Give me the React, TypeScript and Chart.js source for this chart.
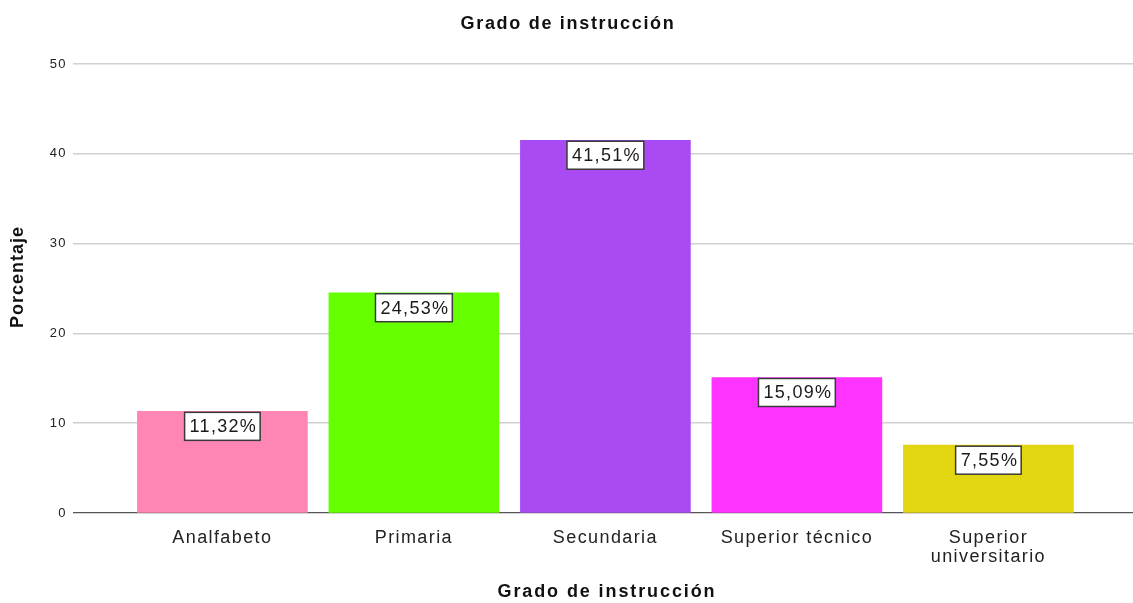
import React, { useEffect, useRef } from "react";
import { Chart, registerables } from "chart.js";

Chart.register(...registerables);

const chartTitle = "Grado de instrucción";
const xAxisTitle = "Grado de instrucción";
const yAxisTitle = "Porcentaje";
const categories: (string | string[])[] = [
  "Analfabeto",
  "Primaria",
  "Secundaria",
  "Superior técnico",
  ["Superior", "universitario"],
];
const percentages = [11.32, 24.53, 41.51, 15.09, 7.55];
const percentLabels = ["11,32%", "24,53%", "41,51%", "15,09%", "7,55%"];
const barColors = ["#FF85B4", "#66FF00", "#AA4AF2", "#FF33FF", "#E2D610"];
const yTicks = [0, 10, 20, 30, 40, 50];

const FONT = "'Liberation Sans', Arial, sans-serif";

const textPlugin = {
  id: "textPlugin",
  beforeDraw(chart: any) {
    chart.ctx.letterSpacing = "1.4px";
  },
  afterDatasetsDraw(chart: any) {
    const ctx = chart.ctx;
    const meta = chart.getDatasetMeta(0);
    ctx.save();
    ctx.letterSpacing = "1.3px";
    ctx.font = `18px ${FONT}`;
    meta.data.forEach((bar: any, i: number) => {
      const txt = percentLabels[i];
      const w = ctx.measureText(txt).width + 8;
      const h = 28;
      const x = bar.x - w / 2;
      const y = bar.y + 1;
      ctx.fillStyle = "#ffffff";
      ctx.fillRect(x, y, w, h);
      ctx.strokeStyle = "#3a3a3a";
      ctx.lineWidth = 1.5;
      ctx.strokeRect(x, y, w, h);
      ctx.fillStyle = "#1a1a1a";
      ctx.textAlign = "center";
      ctx.textBaseline = "middle";
      ctx.fillText(txt, bar.x + 1, y + h / 2 + 1);
    });
    ctx.restore();
  },
  afterDraw(chart: any) {
    const ctx = chart.ctx;
    const area = chart.chartArea;
    ctx.save();
    ctx.fillStyle = "#111";
    ctx.textAlign = "center";
    ctx.textBaseline = "middle";
    ctx.letterSpacing = "1.7px";
    ctx.font = `bold 18px ${FONT}`;
    ctx.fillText(chartTitle, 568, 24);
    ctx.letterSpacing = "1.9px";
    ctx.font = `bold 18px ${FONT}`;
    ctx.fillText(xAxisTitle, (area.left + area.right) / 2 + 4, 592);
    ctx.translate(18, 277);
    ctx.rotate(-Math.PI / 2);
    ctx.letterSpacing = "1px";
    ctx.fillText(yAxisTitle, 0, 0);
    ctx.restore();
  },
};

export default function App() {
  const ref = useRef<HTMLCanvasElement>(null);

  useEffect(() => {
    document.body.style.margin = "0";
    const canvas = ref.current!;
    const chart = new Chart(canvas, {
      type: "bar",
      data: {
        datasets: [
          {
            data: percentages.map((v, i) => ({ x: i, y: v })) as any,
            backgroundColor: barColors,
            borderWidth: 0,
            barThickness: 170,
          },
        ],
      },
      options: {
        responsive: false,
        animation: false,
        layout: { padding: { top: 64, left: 0, right: 0, bottom: 0 } },
        plugins: {
          legend: { display: false },
          tooltip: { enabled: false },
          title: { display: false },
        },
        scales: {
          x: {
            type: "linear",
            min: -0.78,
            max: 4.755,
            offset: false,
            bounds: "data",
            grid: { display: false, offset: false },
            border: { display: false },
            afterBuildTicks: (scale: any) => {
              scale.ticks = categories.map((_, i) => ({ value: i }));
            },
            afterFit: (scale: any) => {
              scale.height = 90;
            },
            ticks: {
              autoSkip: false,
              maxRotation: 0,
              padding: 8,
              color: "#222",
              font: { family: FONT, size: 18, lineHeight: 1.05 },
              callback: (v: any) => categories[v as number] as any,
            },
          },
          y: {
            min: 0,
            max: 50,
            afterBuildTicks: (scale: any) => {
              scale.ticks = yTicks.map((v) => ({ value: v }));
            },
            afterFit: (scale: any) => {
              scale.width = 73;
            },
            border: { display: false },
            grid: {
              drawTicks: false,
              lineWidth: (c: any) => (c.tick && c.tick.value === 0 ? 1.2 : 1.6),
              color: (c: any) => (c.tick && c.tick.value === 0 ? "#555555" : "#d0d0d0"),
            },
            ticks: {
              padding: 6,
              color: "#222",
              font: { family: FONT, size: 13 },
            },
          },
        },
      },
      plugins: [textPlugin],
    });
    return () => chart.destroy();
  }, []);

  return <canvas ref={ref} width={1133} height={603} style={{ display: "block" }} />;
}
